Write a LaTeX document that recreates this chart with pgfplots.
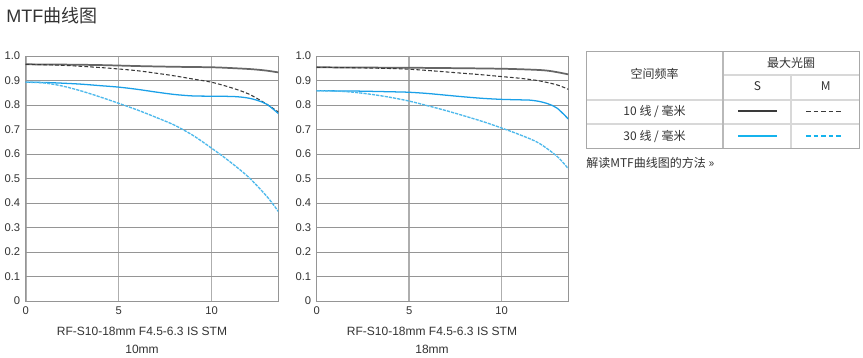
\documentclass[border=0pt]{standalone}
\usepackage{fontspec}
\setmainfont{Liberation Sans}
\newfontfamily\cjk{Noto Sans CJK SC}
\usepackage{pgfplots}
\pgfplotsset{compat=1.18}
\definecolor{txt}{HTML}{333333}
\definecolor{gdark}{HTML}{666666}
\definecolor{gdash}{HTML}{3A3A3A}
\definecolor{bsolid}{HTML}{1AA0E8}
\definecolor{bdash}{HTML}{4DB9EC}
\definecolor{hgrid}{HTML}{959595}
\definecolor{vgrid}{HTML}{AEAEAE}
\pgfplotsset{
  mtf/.style={
    scale only axis, width=189.5pt, height=183.75pt,
    xmin=0, xmax=13.6, ymin=0, ymax=1,
    xtick={0,5,10}, ytick={0,0.1,0.2,0.3,0.4,0.5,0.6,0.7,0.8,0.9,1.0},
    yticklabels={0,0.1,0.2,0.3,0.4,0.5,0.6,0.7,0.8,0.9,1.0},
    major tick length=0pt,
    grid=major,
    x grid style={vgrid, line width=1.2pt},
    y grid style={hgrid, line width=0.65pt},
    axis line style={draw=hgrid, line width=0.7pt},
    tick label style={font=\fontsize{8.4}{10}\selectfont, text=txt},
    /pgf/number format/assume math mode=true,
    xticklabel style={yshift=-1pt},
    yticklabel style={xshift=-0.6pt},
    anchor=south west,
  },
  s10/.style={gdark, line width=1.3pt, smooth, no marks},
  m10/.style={gdash, line width=0.8pt, dash pattern=on 2.8pt off 1.6pt, smooth, no marks},
  s30/.style={bsolid, line width=0.95pt, smooth, no marks},
  m30/.style={bdash, line width=1pt, dash pattern=on 2.4pt off 0.8pt, smooth, no marks},
}
\begin{document}
\begin{tikzpicture}
\path[use as bounding box, fill=white] (0,0) rectangle (647.25pt,-267.75pt);
% title
\node[anchor=west, inner sep=0pt, text=txt] at (4.5pt,-11.8pt) {\fontsize{13.5}{16}\selectfont MTF{\cjk 曲线图}};
% left axis
\begin{axis}[mtf, at={(19.3pt,-225.75pt)}]
\addplot[s10] coordinates {(0,0.966)(2,0.965)(4,0.963)(6,0.959)(8,0.956)(10,0.954)(11,0.951)(12,0.947)(12.5,0.944)(13,0.940)(13.6,0.933)};
\addplot[m10] coordinates {(0,0.966)(2,0.962)(4,0.953)(5,0.947)(6,0.940)(7,0.930)(8,0.919)(9,0.906)(10,0.893)(11,0.872)(12,0.845)(13,0.802)(13.6,0.771)};
\addplot[s30] coordinates {(0,0.893)(1,0.892)(2,0.889)(3,0.885)(4,0.879)(5,0.873)(6,0.864)(7,0.853)(8,0.843)(9,0.837)(10,0.836)(11,0.835)(11.5,0.833)(12,0.828)(12.5,0.818)(13,0.802)(13.6,0.765)};
\addplot[m30] coordinates {(0,0.893)(1,0.890)(2,0.877)(3,0.857)(4,0.833)(5,0.807)(6,0.780)(7,0.750)(8,0.718)(9,0.676)(10,0.624)(11,0.568)(12,0.505)(13,0.425)(13.6,0.365)};
\end{axis}
% right axis
\begin{axis}[mtf, at={(237.5pt,-225.75pt)}, width=188.7pt]
\addplot[s10] coordinates {(0,0.954)(2,0.953)(5,0.952)(8,0.950)(10,0.948)(11,0.946)(12,0.943)(12.5,0.940)(13,0.934)(13.6,0.925)};
\addplot[m10] coordinates {(0,0.954)(2,0.952)(4,0.949)(5,0.946)(6,0.941)(7,0.935)(8,0.929)(9,0.923)(10,0.916)(11,0.909)(12,0.899)(13,0.882)(13.6,0.864)};
\addplot[s30] coordinates {(0,0.858)(2,0.857)(4,0.854)(5,0.852)(6,0.847)(7,0.840)(8,0.833)(9,0.827)(10,0.823)(11,0.821)(11.5,0.820)(12,0.815)(12.5,0.805)(13,0.787)(13.6,0.743)};
\addplot[m30] coordinates {(0,0.858)(1,0.857)(2,0.852)(3,0.843)(4,0.831)(5,0.816)(6,0.797)(7,0.777)(8,0.755)(9,0.732)(10,0.706)(11,0.678)(12,0.645)(13,0.590)(13.6,0.540)};
\end{axis}
% captions
\begin{scope}[every node/.style={text=txt, inner sep=0pt, font=\fontsize{9}{11}\selectfont}]
\node at (106.5pt,-248.8pt) {RF-S10-18mm F4.5-6.3 IS STM};
\node at (106.5pt,-262pt) {10mm};
\node at (324pt,-248.8pt) {RF-S10-18mm F4.5-6.3 IS STM};
\node at (324pt,-262pt) {18mm};
\end{scope}
% table
\definecolor{tb}{HTML}{A8A8A8}
\definecolor{ti}{HTML}{D8D8D8}
\draw[ti, line width=1.5pt] (439.5pt,-75pt) -- (644.25pt,-75pt);
\draw[ti, line width=1.5pt] (439.5pt,-93pt) -- (644.25pt,-93pt);
\draw[ti, line width=1.5pt] (542.5pt,-56.25pt) -- (644.25pt,-56.25pt);
\draw[ti, line width=1.5pt] (593.5pt,-56.25pt) -- (593.5pt,-111pt);
\draw[tb!80, line width=1.3pt] (542.5pt,-38.25pt) -- (542.5pt,-111pt);
\draw[tb, line width=0.75pt] (439.5pt,-38.25pt) rectangle (644.25pt,-111pt);
\begin{scope}[every node/.style={text=txt, inner sep=0pt, font=\fontsize{9}{11}\selectfont\cjk}]
\node at (490.9pt,-55.5pt) {空间频率};
\node at (593.4pt,-47pt) {最大光圈};
\node at (568.1pt,-64.9pt) {S};
\node at (619.3pt,-64.9pt) {M};
\node at (490.9pt,-83.25pt) {10 线 / 毫米};
\node at (490.9pt,-102pt) {30 线 / 毫米};
\node[anchor=west] at (439.5pt,-122.25pt) {解读MTF曲线图的方法 »};
\end{scope}
\draw[gdash, line width=0.9pt] (553.5pt,-83.25pt) -- (582.5pt,-83.25pt);
\draw[gdash, line width=0.75pt, dash pattern=on 3.4pt off 2.3pt] (604.5pt,-83.25pt) -- (632.3pt,-83.25pt);
\draw[bsolid!80!cyan, line width=0.9pt] (553.5pt,-102pt) -- (582.5pt,-102pt);
\draw[bsolid!80!cyan, line width=0.9pt, dash pattern=on 3.4pt off 2.3pt] (604.5pt,-102pt) -- (632.3pt,-102pt);
\end{tikzpicture}
\end{document}
